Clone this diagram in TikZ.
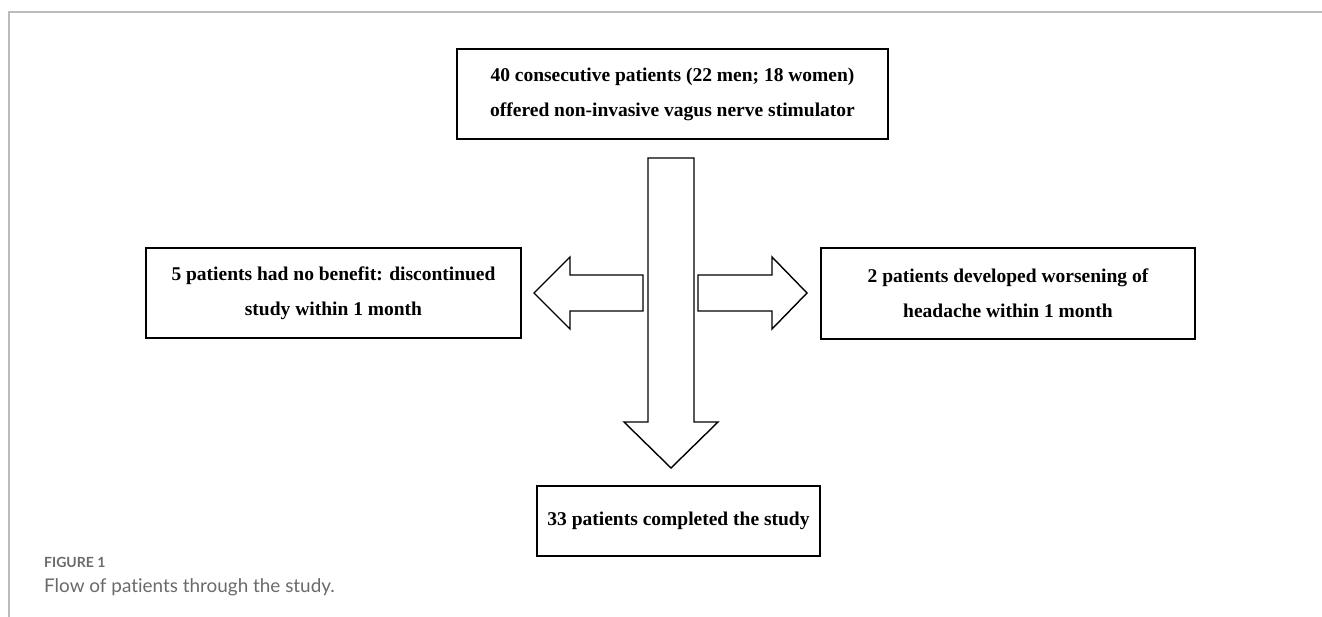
\documentclass[tikz,border=0pt]{standalone}
\usepackage{fontspec}
\setmainfont{Liberation Serif}
\newfontfamily\capfont[Ligatures=NoCommon]{Lato}
\definecolor{framegray}{HTML}{BBBBBB}
\definecolor{capgray}{HTML}{6A6A6A}
\begin{document}
\begin{tikzpicture}[x=1pt,y=-1pt,
  box/.style={draw=black,line width=2pt,fill=white,inner sep=0pt,align=center,
    font=\bfseries\fontsize{19.5}{35}\selectfont},
  blockarrow/.style={draw=black,line width=1.4pt,fill=white,line join=miter}]
\useasboundingbox (0,0) rectangle (1322,617);
% frame
\draw[framegray,line width=2pt] (9,617) -- (9,12) -- (1322,12);
% boxes
\node[box,minimum width=431pt,minimum height=90pt] (top) at (672.5,94)
  {40 consecutive patients (22 men; 18 women)\\offered non-invasive vagus nerve stimulator};
\node[box,minimum width=375pt,minimum height=90pt] (left) at (333.5,293)
  {5 patients had no benefit: discontinued\\study within 1 month};
\node[box,minimum width=374pt,minimum height=91pt] (right) at (1008,293.5)
  {2 patients developed worsening of\\headache within 1 month};
\node[box,minimum width=283pt,minimum height=70pt] (bottom) at (678.5,521)
  {33 patients completed the study};
% block arrows
\draw[blockarrow] (648,158) -- (694,158) -- (694,422) -- (718,422) -- (671,468)
  -- (624,422) -- (648,422) -- cycle;
\draw[blockarrow] (643,275) -- (643,311) -- (570,311) -- (570,329) -- (534,293)
  -- (570,257) -- (570,275) -- cycle;
\draw[blockarrow] (698,275) -- (772,275) -- (772,257) -- (807,293) -- (772,329)
  -- (772,311) -- (698,311) -- cycle;
% caption
\node[anchor=base west,inner sep=0pt,text=capgray,font=\capfont\bfseries\fontsize{14}{16}\selectfont] (figlabel) at (44,567) {FIGURE 1};
\node[anchor=base west,inner sep=0pt,text=capgray,font=\capfont\fontsize{18.9}{22}\selectfont] (caption) at (44,592) {Flow of patients through the study.};
\end{tikzpicture}
\end{document}
